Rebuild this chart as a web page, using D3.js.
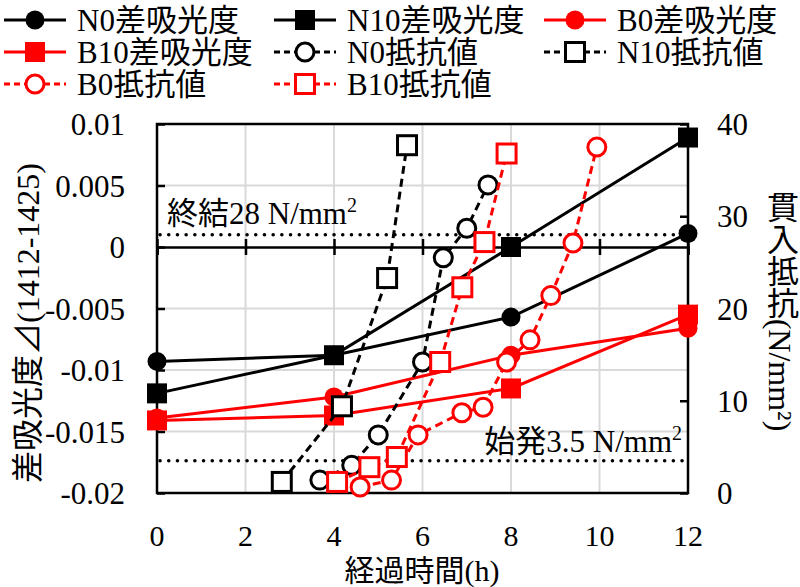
<!DOCTYPE html>
<html>
<head>
<meta charset="utf-8">
<script src="https://cdn.jsdelivr.net/npm/d3@7"></script>
<style>
body { margin: 0; background: #fff; }
text { font-family: "Liberation Serif", "Times New Roman", "Noto Sans CJK JP", serif; fill: #000; }
</style>
</head>
<body>
<svg id="chart" width="800" height="587"></svg>
<script>
// absorbance difference (left axis), measured at 0,4,8,12 h
var absHours = [0, 4, 8, 12];
var n0Abs = [-0.0093, -0.0088, -0.0057, 0.0011];
var n10Abs = [-0.0119, -0.0088, 0.0, 0.0089];
var b0Abs = [-0.0139, -0.0122, -0.0088, -0.0066];
var b10Abs = [-0.0141, -0.0137, -0.0115, -0.0055];

// penetration resistance (right axis)
var n0ResH = [3.68, 4.4, 5.0, 6.0, 6.47, 7.0, 7.48];
var n0Res = [1.4, 3.0, 6.3, 14.2, 25.5, 28.7, 33.4];
var n10ResH = [2.82, 4.18, 5.2, 5.65];
var n10Res = [1.2, 9.4, 23.3, 37.7];
var b0ResH = [4.59, 5.3, 5.9, 6.89, 7.37, 7.9, 8.43, 8.9, 9.4, 9.94];
var b0Res = [0.65, 1.4, 6.3, 8.7, 9.3, 14.2, 16.6, 21.4, 27.1, 37.5];
var b10ResH = [4.07, 4.8, 5.42, 6.4, 6.9, 7.4, 7.9];
var b10Res = [1.2, 2.8, 3.9, 14.2, 22.3, 27.2, 36.8];

var xTicks = [0, 2, 4, 6, 8, 10, 12];
var leftTicks = [-0.02, -0.015, -0.01, -0.005, 0, 0.005, 0.01];
var leftTickLabels = ["-0.02", "-0.015", "-0.01", "-0.005", "0", "0.005", "0.01"];
var rightTicks = [0, 10, 20, 30, 40];
var finalSet = 28, initialSet = 3.5;

var svg = d3.select("#chart");
var pL = 157, pR = 688, pT = 124, pB = 493;

var x = d3.scaleLinear().domain([0, 12]).range([pL, pR]);
var yL = d3.scaleLinear().domain([-0.02, 0.01]).range([pB, pT]);
var yR = d3.scaleLinear().domain([0, 40]).range([pB, pT]);

// grid
var grid = svg.append("g").attr("stroke", "#d9d9d9").attr("stroke-width", 2);
xTicks.slice(1, -1).forEach(function(t){
	grid.append("line").attr("x1", x(t)).attr("x2", x(t)).attr("y1", pT).attr("y2", pB);
});
leftTicks.slice(1, -1).forEach(function(t){
	if (t === 0) return;
	grid.append("line").attr("x1", pL).attr("x2", pR).attr("y1", yL(t)).attr("y2", yL(t));
});

// frame
svg.append("rect").attr("x", pL).attr("y", pT).attr("width", pR - pL).attr("height", pB - pT)
	.attr("fill", "none").attr("stroke", "#000").attr("stroke-width", 2.5);

// left axis ticks (inside)
var leftAxis = d3.axisRight(yL).tickValues(leftTicks).tickSize(8).tickFormat("");
svg.append("g").attr("transform", "translate(" + pL + ",0)").call(leftAxis)
	.call(function(g){ g.select(".domain").remove(); g.selectAll("line").attr("stroke-width", 2.5); });
svg.selectAll(null).data(leftTicks).enter().append("text")
	.attr("x", 125).attr("y", function(d){ return yL(d) + 11; })
	.attr("text-anchor", "end").attr("font-size", 31)
	.text(function(d, i){ return leftTickLabels[i]; });

// right axis ticks (inside)
var rightAxis = d3.axisLeft(yR).tickValues(rightTicks).tickSize(8).tickFormat("");
svg.append("g").attr("transform", "translate(" + pR + ",0)").call(rightAxis)
	.call(function(g){ g.select(".domain").remove(); g.selectAll("line").attr("stroke-width", 2.5); });
svg.selectAll(null).data(rightTicks).enter().append("text")
	.attr("x", 717).attr("y", function(d){ return yR(d) + 11; })
	.attr("font-size", 31)
	.text(function(d){ return d; });

// x axis at zero with crossing ticks
var xAxis = d3.axisBottom(x).tickValues(xTicks).tickSize(8).tickFormat("");
svg.append("g").attr("transform", "translate(0," + yL(0) + ")").call(xAxis)
	.call(function(g){
		g.select(".domain").attr("stroke-width", 2.5);
		g.selectAll(".tick line").attr("y1", -8).attr("stroke-width", 2.5);
	});
svg.selectAll(null).data(xTicks).enter().append("text")
	.attr("x", function(d){ return x(d); }).attr("y", 546)
	.attr("text-anchor", "middle").attr("font-size", 30)
	.text(function(d){ return d; });

// axis titles
svg.append("text").attr("x", 422).attr("y", 581).attr("text-anchor", "middle").attr("font-size", 30)
	.text("経過時間(h)");
svg.append("text").attr("transform", "translate(39,323) rotate(-90)").attr("text-anchor", "middle")
	.attr("font-size", 32).text("差吸光度⊿(1412-1425)");
svg.append("text").attr("x", 780).attr("y", 311).attr("text-anchor", "middle")
	.attr("font-size", 32).style("writing-mode", "vertical-rl").text("貫入抵抗(N/mm²)");

// setting-time reference lines
[finalSet, initialSet].forEach(function(v){
	svg.append("line").attr("x1", pL + 3).attr("x2", pR - 3).attr("y1", yR(v)).attr("y2", yR(v))
		.attr("stroke", "#000").attr("stroke-width", 3.5).attr("stroke-linecap", "round")
		.attr("stroke-dasharray", "0.1,8.6");
});
var t1 = svg.append("text").attr("x", 167).attr("y", yR(finalSet) - 11).attr("font-size", 31);
t1.append("tspan").text("終結28 N/mm");
t1.append("tspan").attr("font-size", 20).attr("dy", -12).text("2");
var t2 = svg.append("text").attr("x", 682).attr("y", yR(initialSet) - 9).attr("font-size", 31).attr("text-anchor", "end");
t2.append("tspan").text("始発3.5 N/mm");
t2.append("tspan").attr("font-size", 20).attr("dy", -12).text("2");

var series = [
	{ name: "N0差吸光度", xs: absHours, ys: n0Abs, y: yL, color: "#000", shape: "circle", filled: true, dash: null },
	{ name: "N10差吸光度", xs: absHours, ys: n10Abs, y: yL, color: "#000", shape: "square", filled: true, dash: null },
	{ name: "B0差吸光度", xs: absHours, ys: b0Abs, y: yL, color: "#ff0000", shape: "circle", filled: true, dash: null },
	{ name: "B10差吸光度", xs: absHours, ys: b10Abs, y: yL, color: "#ff0000", shape: "square", filled: true, dash: null },
	{ name: "N0抵抗値", xs: n0ResH, ys: n0Res, y: yR, color: "#000", shape: "circle", filled: false, dash: "8,5" },
	{ name: "N10抵抗値", xs: n10ResH, ys: n10Res, y: yR, color: "#000", shape: "square", filled: false, dash: "8,5" },
	{ name: "B0抵抗値", xs: b0ResH, ys: b0Res, y: yR, color: "#ff0000", shape: "circle", filled: false, dash: "8,5" },
	{ name: "B10抵抗値", xs: b10ResH, ys: b10Res, y: yR, color: "#ff0000", shape: "square", filled: false, dash: "8,5" }
];

function marker(g, s, cx, cy) {
	if (s.shape === "circle") {
		if (s.filled) g.append("circle").attr("cx", cx).attr("cy", cy).attr("r", 9.5).attr("fill", s.color);
		else g.append("circle").attr("cx", cx).attr("cy", cy).attr("r", 9)
			.attr("fill", "#fff").attr("stroke", s.color).attr("stroke-width", 3);
	} else {
		if (s.filled) g.append("rect").attr("x", cx - 10).attr("y", cy - 10).attr("width", 20).attr("height", 20).attr("fill", s.color);
		else g.append("rect").attr("x", cx - 9.5).attr("y", cy - 9.5).attr("width", 19).attr("height", 19)
			.attr("fill", "#fff").attr("stroke", s.color).attr("stroke-width", 3);
	}
}

var line = d3.line();
series.forEach(function(s){
	var g = svg.append("g");
	var pts = s.xs.map(function(h, i){ return [x(h), s.y(s.ys[i])]; });
	g.append("path").attr("d", line(pts)).attr("fill", "none").attr("stroke", s.color)
		.attr("stroke-width", 3).attr("stroke-dasharray", s.dash);
	pts.forEach(function(p){ marker(g, s, p[0], p[1]); });
});

// legend
var legX = [35, 305, 575], legY = [20, 52, 84];
series.forEach(function(s, i){
	var cx = legX[i % 3], cy = legY[Math.floor(i / 3)];
	var g = svg.append("g");
	g.append("line").attr("x1", cx - 31).attr("x2", cx + 31).attr("y1", cy).attr("y2", cy)
		.attr("stroke", s.color).attr("stroke-width", 3).attr("stroke-dasharray", s.dash ? "6,4" : null);
	marker(g, s, cx, cy);
	g.append("text").attr("x", cx + 42).attr("y", cy + 11).attr("font-size", 31).text(s.name);
});
</script>
</body>
</html>
